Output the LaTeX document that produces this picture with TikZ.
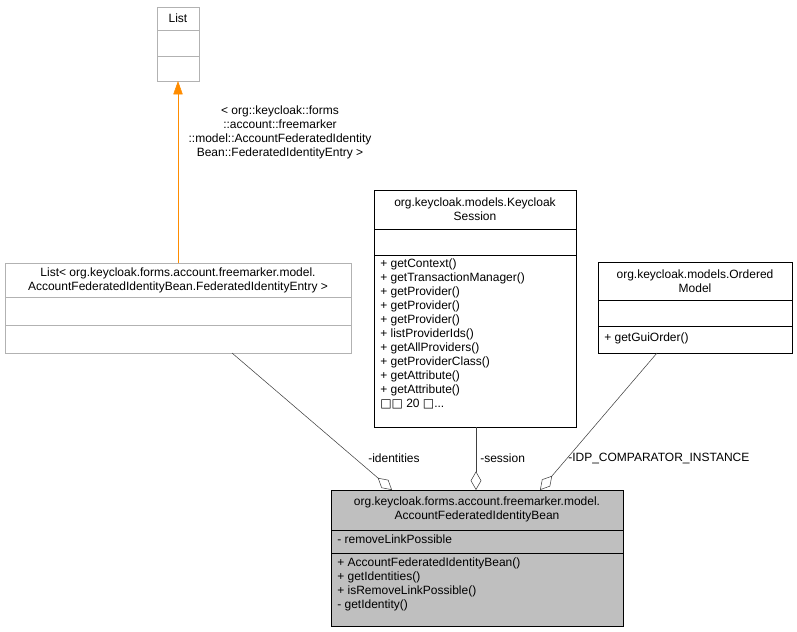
\documentclass[tikz,border=0pt]{standalone}
\usepackage{fontspec}
\setmainfont{Liberation Sans}
\newfontfamily\djfont{DejaVu Sans}
\usetikzlibrary{arrows.meta}
\begin{document}
\begin{tikzpicture}[x=0.75pt,y=-0.75pt,font=\fontsize{9}{10.5}\selectfont,
 txt/.style={inner sep=0pt,align=left,anchor=north west},
 ctr/.style={inner sep=0pt,align=center},
 agg/.style={draw=black!75,-{Diamond[open,fill=white,length=14pt,width=8pt]}}]
\useasboundingbox (0,0) rectangle (797,632);
% List
\draw[gray!60,fill=white] (157,7) rectangle (199,81);
\draw[gray!60] (157,30) -- (199,30) (157,56) -- (199,56);
\node[ctr] (list) at (178,18) {List};
\coordinate (listb) at (178,81);
% List<...>
\draw[gray!60,fill=white] (5,263) rectangle (351,353);
\draw[gray!60] (5,297) -- (351,297) (5,325) -- (351,325);
\node[ctr] (lt) at (178,280) {List< org.keycloak.forms.account.freemarker.model.\\AccountFederatedIdentityBean.FederatedIdentityEntry >};
\coordinate (ltt) at (178,263);
\coordinate (ltb) at (232,353);
\draw[orange!90!yellow,-{Triangle[length=10pt,width=7pt]}] (ltt) -- (listb);
\node[ctr] (tl) at (280,132) {< org::keycloak::forms\\::account::freemarker\\::model::AccountFederatedIdentity\\Bean::FederatedIdentityEntry >};
% KeycloakSession
\draw[black,fill=white] (374,190) rectangle (576,427);
\draw (374,229) -- (576,229) (374,255) -- (576,255);
\node[ctr] (ks) at (475,209) {org.keycloak.models.Keycloak\\Session};
\node[txt] (ksm) at (380,259) {+ getContext()\\+ getTransactionManager()\\+ getProvider()\\+ getProvider()\\+ getProvider()\\+ listProviderIds()\\+ getAllProviders()\\+ getProviderClass()\\+ getAttribute()\\+ getAttribute()\\{\djfont □□} 20 {\djfont □}...};
\coordinate (ksb) at (476,427);
% OrderedModel
\draw[fill=white] (598,262) rectangle (792,353);
\draw (598,300) -- (792,300) (598,326) -- (792,326);
\node[ctr] (om) at (695,281) {org.keycloak.models.Ordered\\Model};
\node[txt] (omm) at (604,333) {+ getGuiOrder()};
\coordinate (omb) at (657,353);
% Bean
\draw[fill=gray!50] (331,490) rectangle (623,626);
\draw (331,530) -- (623,530) (331,553) -- (623,553);
\node[ctr] (bean) at (477,509) {org.keycloak.forms.account.freemarker.model.\\AccountFederatedIdentityBean};
\node[txt] (ba) at (337,535) {- removeLinkPossible};
\node[txt] (bm) at (337,558) {+ AccountFederatedIdentityBean()\\+ getIdentities()\\+ isRemoveLinkPossible()\\- getIdentity()};
\coordinate (d1) at (392,490);
\coordinate (d2) at (476,490);
\coordinate (d3) at (540,490);
\draw[agg] (ltb) -- (d1);
\draw[agg] (ksb) -- (d2);
\draw[agg] (omb) -- (d3);
\node[txt,anchor=west] (l1) at (368,458) {-identities};
\node[txt,anchor=west] (l2) at (480,458) {-session};
\node[txt,anchor=west] (l3) at (568,458) {-IDP\_COMPARATOR\_INSTANCE};
\end{tikzpicture}
\end{document}
